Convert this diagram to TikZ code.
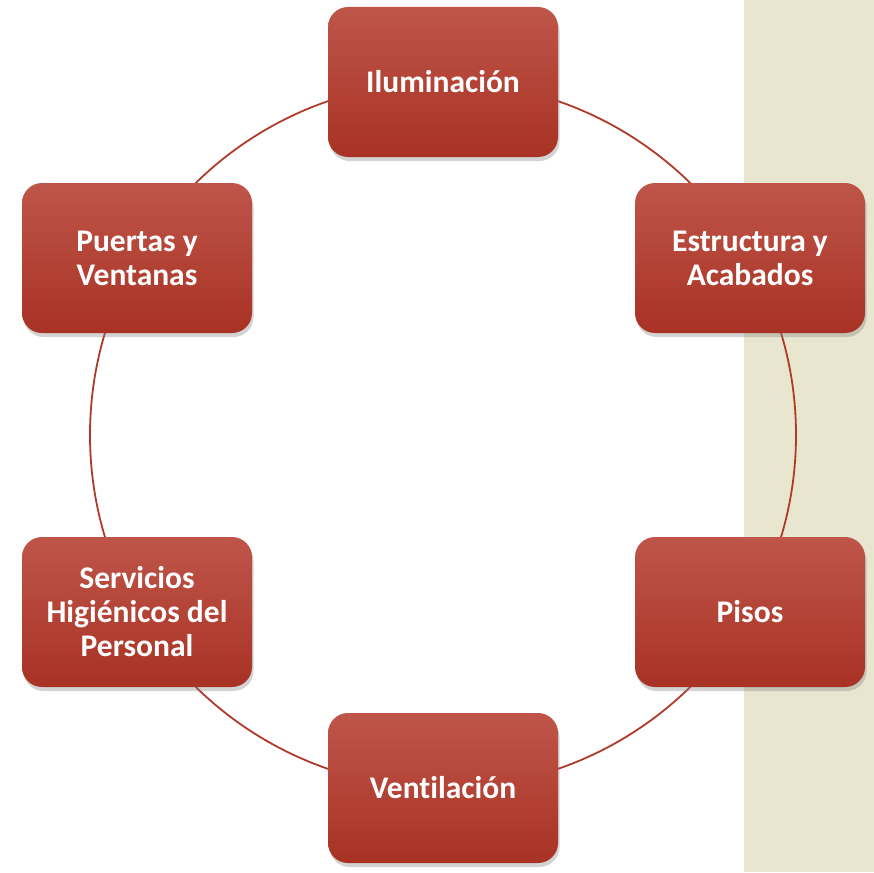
\documentclass[tikz,border=0pt]{standalone}
\usepackage{fontspec}
\setmainfont[Ligatures=NoCommon]{Carlito}
\usepackage{tikz}
\usetikzlibrary{shadows}
\usetikzlibrary{calc}
\definecolor{boxtop}{HTML}{BF554A}
\definecolor{boxbot}{HTML}{A83224}
\definecolor{ring}{HTML}{B03A2A}
\definecolor{strip}{HTML}{E8E6CF}
\tikzstyle{every node}=[font=\bfseries\fontsize{31.5}{34}\selectfont]
\tikzstyle{item}=[rectangle,rounded corners=20pt,minimum width=230pt,minimum height=150pt,
  top color=boxtop,bottom color=boxbot,draw=none,text=white,align=center,
  drop shadow={opacity=0.35,shadow xshift=1.5pt,shadow yshift=-4pt}]

\begin{document}
\begin{tikzpicture}[x=1pt,y=-1pt]
    \useasboundingbox (0,0) rectangle (874,872);
    % background
    \fill[strip] (744,0) rectangle (874,872);
    % ring
    \coordinate (mid) at (443,435);
    \draw[ring,line width=1.8pt] (mid) circle[radius=353];
    %
    \node[item] (ilum) at (443,82) {Iluminación};
    \node[item] (estr) at (750,258) {Estructura y\\Acabados};
    \node[item] (pisos) at (750,612) {Pisos};
    \node[item] (vent) at (443,788) {Ventilación};
    \node[item] (serv) at (137,612) {Servicios\\Higiénicos del\\Personal};
    \node[item] (puer) at (137,258) {Puertas y\\Ventanas};
\end{tikzpicture}
\end{document}
